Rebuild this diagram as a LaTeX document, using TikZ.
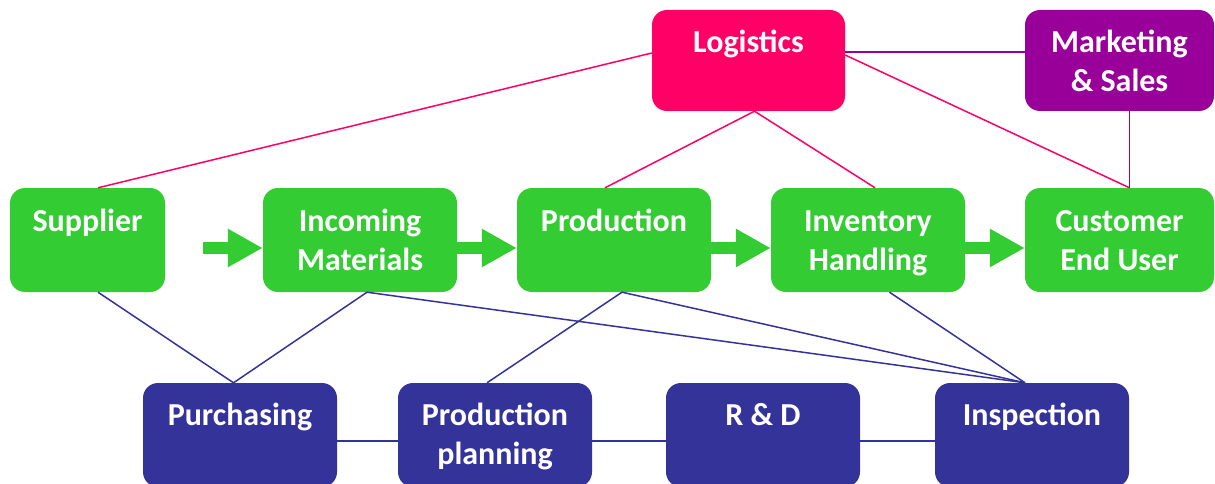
\documentclass[tikz,border=0pt]{standalone}
\usepackage{fontspec}
\setmainfont{Carlito}
\usetikzlibrary{arrows.meta}
\definecolor{boxgreen}{HTML}{33CC33}
\definecolor{boxpink}{HTML}{FF0066}
\definecolor{boxpurple}{HTML}{990099}
\definecolor{boxnavy}{HTML}{333399}
\tikzset{
  box/.style={rectangle, rounded corners=15pt, inner sep=0pt, draw=none,
    minimum width=194pt, minimum height=104pt},
  lbl/.style={inner sep=0pt, anchor=base, text=white,
    font=\fontsize{32}{38}\selectfont\bfseries},
  flow/.style={boxgreen, line width=12pt,
    -{Triangle[length=35pt,width=36pt]}},
  pinkline/.style={boxpink, line width=1.5pt},
  purpleline/.style={boxpurple, line width=1.5pt},
  navyline/.style={boxnavy, line width=1.5pt},
}
\newcommand{\twoline}[2]{\begin{tabular}[t]{@{}c@{}}#1\\[1pt]#2\end{tabular}}
\begin{document}
\begin{tikzpicture}[x=1pt,y=-1pt]
\useasboundingbox (0,0) rectangle (1215,484);
\clip (0,0) rectangle (1215,484);

% top row
\node[box, fill=boxpink, minimum width=193pt, minimum height=101pt] (log) at (748.5,60.5) {};
\node[box, fill=boxpurple, minimum width=189pt, minimum height=101pt] (mkt) at (1119.5,60.5) {};

% middle row (process chain)
\node[box, fill=boxgreen, minimum width=155pt] (sup) at (87.5,240) {};
\node[box, fill=boxgreen] (inc) at (360,240) {};
\node[box, fill=boxgreen] (prd) at (614,240) {};
\node[box, fill=boxgreen] (inv) at (868,240) {};
\node[box, fill=boxgreen, minimum width=189pt] (cus) at (1119.5,240) {};

% bottom row (support functions)
\node[box, fill=boxnavy] (pur) at (240,435) {};
\node[box, fill=boxnavy] (ppl) at (495,435) {};
\node[box, fill=boxnavy] (rnd) at (763,435) {};
\node[box, fill=boxnavy] (ins) at (1032,435) {};

% labels
\node[lbl] (logT) at ([yshift=-43pt]log.north) {Logistics};
\node[lbl] (mktT) at ([yshift=-43pt]mkt.north) {\twoline{Marketing}{\& Sales}};
\node[lbl] (supT) at ([yshift=-44pt]sup.north) {Supplier};
\node[lbl] (incT) at ([yshift=-44pt]inc.north) {\twoline{Incoming}{Materials}};
\node[lbl] (prdT) at ([yshift=-44pt]prd.north) {Production};
\node[lbl] (invT) at ([yshift=-44pt]inv.north) {\twoline{Inventory}{Handling}};
\node[lbl] (cusT) at ([yshift=-44pt]cus.north) {\twoline{Customer}{End User}};
\node[lbl] (purT) at ([yshift=-43pt]pur.north) {Purchasing};
\node[lbl] (pplT) at ([yshift=-43pt]ppl.north) {\twoline{Production}{planning}};
\node[lbl] (rndT) at ([yshift=-43pt]rnd.north) {R \& D};
\node[lbl] (insT) at ([yshift=-43pt]ins.north) {Inspection};

% material flow arrows
\coordinate (a1) at (203,248);
\draw[flow] (a1) -- ([yshift=-8pt]inc.west);
\draw[flow] ([yshift=-8pt]inc.east) -- ([yshift=-8pt]prd.west);
\draw[flow] ([yshift=-8pt]prd.east) -- ([yshift=-8pt]inv.west);
\draw[flow] ([yshift=-8pt]inv.east) -- ([yshift=-8pt]cus.west);

% logistics links
\draw[pinkline] ([yshift=7.5pt]log.west) -- ([xshift=10.5pt]sup.north);
\draw[pinkline] ([xshift=6pt]log.south) -- ([xshift=-9pt]prd.north);
\draw[pinkline] ([xshift=6pt]log.south) -- ([xshift=7pt]inv.north);
\draw[pinkline] ([yshift=5.5pt]log.east) -- ([xshift=10pt]cus.north);

% marketing links
\draw[purpleline] ([yshift=8.5pt]log.east) -- ([yshift=8.5pt]mkt.west);
\draw[purpleline] ([xshift=10pt]mkt.south) -- ([xshift=10pt]cus.north);

% support links
\draw[navyline] ([xshift=10.5pt]sup.south) -- ([xshift=-6.5pt]pur.north);
\draw[navyline] ([xshift=7pt]inc.south) -- ([xshift=-6.5pt]pur.north);
\draw[navyline] ([xshift=7pt]inc.south) -- ([xshift=-7pt]ins.north);
\draw[navyline] ([xshift=8pt]prd.south) -- ([xshift=-8pt]ppl.north);
\draw[navyline] ([xshift=8pt]prd.south) -- ([xshift=-7pt]ins.north);
\draw[navyline] ([xshift=21.5pt]inv.south) -- ([xshift=-7pt]ins.north);
\draw[navyline] ([yshift=-6pt]pur.east) -- ([yshift=-6pt]ppl.west);
\draw[navyline] ([yshift=-6pt]ppl.east) -- ([yshift=-6pt]rnd.west);
\draw[navyline] ([yshift=-6pt]rnd.east) -- ([yshift=-6pt]ins.west);
\end{tikzpicture}
\end{document}
